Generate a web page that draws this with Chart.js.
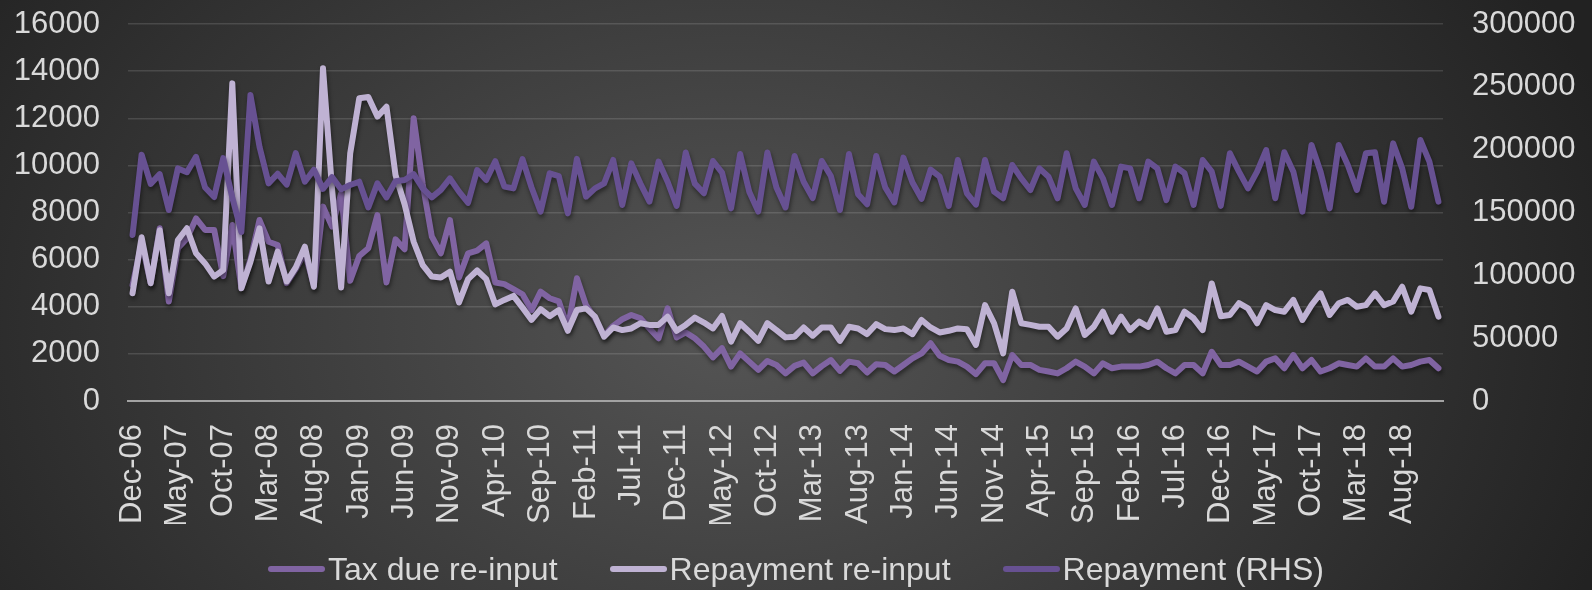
<!DOCTYPE html>
<html>
<head>
<meta charset="utf-8">
<script src="https://cdn.jsdelivr.net/npm/chart.js@4.4.0/dist/chart.umd.min.js"></script>
<style>
html,body{margin:0;padding:0;}
body{width:1592px;height:590px;overflow:hidden;position:relative;
  background:radial-gradient(ellipse 58% 115% at 46% 55%, #555555 0%, #3c3c3c 50%, #222222 100%);
  font-family:"Liberation Sans",Arial,sans-serif;}
#wrap{position:absolute;left:0;top:0;width:1592px;height:590px;}
#legend{position:absolute;left:0;top:553px;width:1592px;height:32px;display:flex;justify-content:center;align-items:center;
  font-size:32px;line-height:32px;color:#d9d9d9;white-space:nowrap;}
.item{display:flex;align-items:center;margin:0 26px;}
.swatch{width:57px;height:6px;border-radius:3px;margin-right:3px;}
</style>
</head>
<body>
<div id="wrap"><canvas id="c" width="1592" height="590"></canvas></div>
<div id="legend"></div>
<script>
// ---- data ----
const monthNames = ['Jan','Feb','Mar','Apr','May','Jun','Jul','Aug','Sep','Oct','Nov','Dec'];
const categories = ['Dec-06'];
for (let y = 7; y <= 18; y++) {
  for (let m = 0; m < 12; m++) categories.push(monthNames[m] + '-' + String(y).padStart(2, '0'));
}
const seriesNames = ['Tax due re-input', 'Repayment re-input', 'Repayment (RHS)'];
const seriesColors = ['#8064a2', '#bfb2d3', '#675192'];

const taxDueReinput = [4920,6700,5000,7330,4220,6480,6900,7750,7260,7260,
 5300,7470,4800,6000,7680,6760,6620,5000,5600,6300,
 4900,8250,7400,8800,5100,6150,6480,7890,5030,6860,
 6440,12000,9200,6980,6270,7680,5240,6270,6380,6690,
 5030,4960,4750,4530,3860,4640,4360,4230,3120,5210,
 4070,3510,2770,3190,3470,3650,3510,3080,2660,3930,
 2700,2910,2660,2310,1850,2240,1460,2020,1670,1320,
 1700,1530,1170,1490,1630,1170,1480,1740,1280,1670,
 1600,1210,1560,1530,1250,1530,1810,2020,2450,1920,
 1740,1670,1460,1140,1600,1600,890,1950,1530,1530,
 1320,1250,1170,1390,1670,1460,1170,1600,1390,1460,
 1460,1460,1530,1670,1390,1170,1530,1530,1170,2090,
 1530,1530,1670,1460,1250,1670,1810,1390,1950,1390,
 1740,1250,1390,1600,1530,1460,1810,1460,1460,1810,
 1460,1530,1670,1740,1390];

const repaymentReinput = [4570,6950,5000,7250,4570,6830,7330,6270,5840,5280,
 5560,13480,4780,5900,7330,5070,6340,5070,5670,6550,
 4850,14120,9000,4820,10500,12850,12900,12070,12490,9590,
 8350,6760,5770,5280,5240,5490,4180,5170,5540,5170,
 4100,4290,4460,3960,3440,3900,3600,3860,2980,3860,
 3930,3580,2730,3120,3010,3080,3300,3230,3230,3580,
 2980,3230,3540,3330,3080,3610,2520,3300,2940,2550,
 3300,3010,2700,2730,3120,2770,3120,3120,2550,3150,
 3080,2840,3260,3050,3010,3080,2840,3440,3120,2910,
 2980,3080,3050,2380,4070,3300,2020,4640,3300,3230,
 3150,3150,2730,3080,3930,2800,3150,3790,2940,3580,
 3010,3370,3150,3930,2940,3010,3790,3510,3010,4990,
 3600,3650,4150,3930,3300,4070,3860,3790,4290,3440,
 4070,4570,3650,4150,4290,4000,4070,4570,4070,4220,
 4850,3790,4780,4710,3580];

const repaymentRHS = [132100,196000,172800,180500,152000,185100,182000,194300,169900,162300,
 193300,162000,134500,243500,202300,173200,180800,172200,197300,174500,
 184000,168800,178200,168500,171900,174500,154000,173200,162000,174800,
 175900,180500,169200,162000,168000,177200,166600,157700,183800,175900,
 190800,170600,169200,192500,169900,150700,181200,179000,149300,192700,
 162600,169200,173200,191800,156000,189100,173000,158600,190500,174500,
 155300,197700,173000,165300,191000,181800,153300,196500,166600,150700,
 197700,169800,154000,195000,174500,161500,191000,179000,152000,196500,
 164600,156600,195000,169900,158000,193700,173900,160900,184100,178500,
 155300,191800,165300,156300,191800,166600,161300,187800,177200,167900,
 185100,178500,161300,197100,169200,156000,190500,177200,156000,186500,
 185100,161300,190500,185100,159900,186500,181200,156000,191800,182500,
 155300,197100,182500,169200,182500,199700,161300,197900,182500,150700,
 203700,182500,153300,203700,187800,167900,197100,197900,158600,205000,
 185100,154600,207700,190500,158600];

const leftTicks = {min: 0, max: 16000, step: 2000};
const rightTicks = {min: 0, max: 300000, step: 50000};
const labelEvery = 5;

// ---- chart ----
const FONT = "'Liberation Sans', Arial, sans-serif";
Chart.defaults.font.family = FONT;

const shadowPlugin = {
  id: 'lineShadow',
  beforeDatasetDraw(chart) {
    const c = chart.ctx; c.save();
    c.shadowColor = 'rgba(0,0,0,0.45)'; c.shadowBlur = 4; c.shadowOffsetX = 1; c.shadowOffsetY = 3;
  },
  afterDatasetDraw(chart) { chart.ctx.restore(); }
};

const lineStyle = {borderWidth: 6, tension: 0, borderJoinStyle: 'round', borderCapStyle: 'round',
  pointRadius: 0, pointHoverRadius: 0, fill: false};
const tickFont = {family: FONT, size: 31};
const noPad = (s) => { s.paddingTop = 0; s.paddingBottom = 0; s.paddingLeft = 0; s.paddingRight = 0; };

new Chart(document.getElementById('c'), {
  type: 'line',
  data: {
    labels: categories,
    datasets: [
      Object.assign({label: seriesNames[0], data: taxDueReinput, borderColor: seriesColors[0], yAxisID: 'y', order: 2}, lineStyle),
      Object.assign({label: seriesNames[1], data: repaymentReinput, borderColor: seriesColors[1], yAxisID: 'y', order: 1}, lineStyle),
      Object.assign({label: seriesNames[2], data: repaymentRHS, borderColor: seriesColors[2], yAxisID: 'y1', order: 0}, lineStyle)
    ]
  },
  options: {
    responsive: false,
    animation: false,
    layout: {padding: {left: 0, right: 0, top: 24, bottom: 66}},
    plugins: {legend: {display: false}, tooltip: {enabled: false}},
    scales: {
      x: {
        offset: true,
        grid: {display: false, drawTicks: false},
        border: {display: true, color: '#a3a3a3', width: 2},
        ticks: {autoSkip: false, maxRotation: 90, minRotation: 90, padding: 23, color: '#d9d9d9', font: tickFont,
          callback: (v, i) => (i % labelEvery === 0 ? categories[i] : '')},
        afterFit: (s) => { s.height = 123; noPad(s); }
      },
      y: {
        position: 'left', min: leftTicks.min, max: leftTicks.max,
        ticks: {stepSize: leftTicks.step, padding: 28, color: '#d9d9d9', font: tickFont, callback: (v) => String(v)},
        grid: {color: 'rgba(255,255,255,0.13)', lineWidth: 1.5, drawTicks: false},
        border: {display: false},
        afterFit: (s) => { s.width = 128; noPad(s); }
      },
      y1: {
        position: 'right', min: rightTicks.min, max: rightTicks.max,
        ticks: {stepSize: rightTicks.step, padding: 29, color: '#d9d9d9', font: tickFont, callback: (v) => String(v)},
        grid: {display: false, drawOnChartArea: false, drawTicks: false},
        border: {display: false},
        afterFit: (s) => { s.width = 149; noPad(s); }
      }
    }
  },
  plugins: [shadowPlugin]
});

// ---- legend (HTML, built from the series arrays) ----
const legend = document.getElementById('legend');
seriesNames.forEach((name, i) => {
  const item = document.createElement('div'); item.className = 'item';
  const sw = document.createElement('span'); sw.className = 'swatch'; sw.style.background = seriesColors[i];
  const tx = document.createElement('span'); tx.textContent = name;
  item.appendChild(sw); item.appendChild(tx); legend.appendChild(item);
});
</script>
</body>
</html>
